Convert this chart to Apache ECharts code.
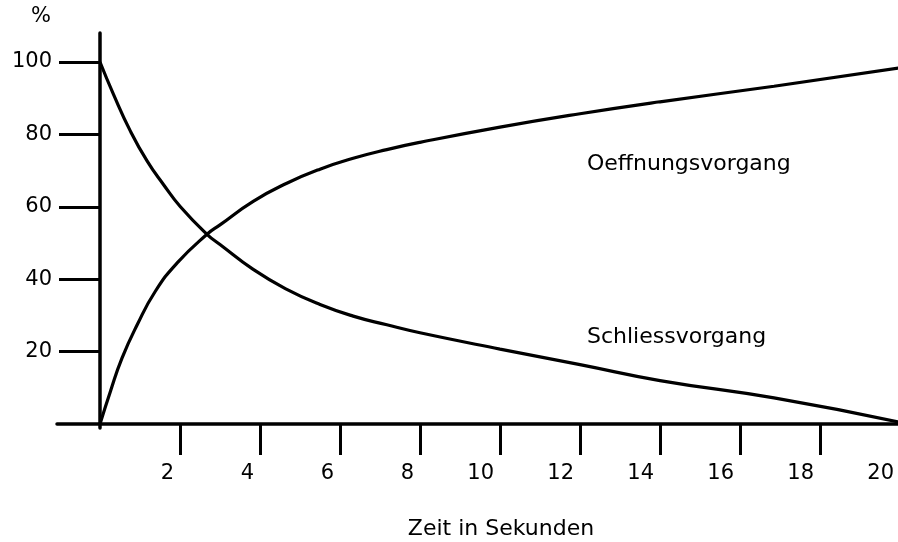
<!DOCTYPE html>
<html>
<head>
<meta charset="utf-8">
<script src="https://cdn.jsdelivr.net/npm/echarts@6/dist/echarts.min.js"></script>
<style>
  html, body { margin: 0; padding: 0; background: #fff; }
  #chart { width: 898px; height: 542px; }
</style>
</head>
<body>
<div id="chart"></div>
<script>
// readings (time in s, percent)
const openTime = [0, 0.26, 0.55, 0.93, 1.38, 1.93, 2.675, 3.0, 3.83, 4.67, 5.5, 6.33, 7.17, 8, 10, 12, 14, 16.85, 20];
const openPct = [0, 9, 18.2, 27.4, 36.6, 44.5, 52.4, 55, 61.5, 66.5, 70.4, 73.4, 75.8, 77.8, 82, 85.7, 89, 93.3, 98.4];
const closeTime = [0, 0.34, 0.76, 1.18, 1.59, 2.01, 2.675, 3.0, 3.83, 4.67, 5.5, 6.33, 7.17, 8, 10, 12, 14, 16.85, 20];
const closePct = [100, 91, 80.9, 72.6, 66.1, 60, 52.4, 49.6, 42.7, 37.2, 33, 29.8, 27.4, 25.2, 20.7, 16.4, 12, 7.2, 0.5];
const xTicks = [2, 4, 6, 8, 10, 12, 14, 16, 18, 20];
const yTicks = [20, 40, 60, 80, 100];

document.addEventListener("DOMContentLoaded", function () {
    const chart = echarts.init(document.getElementById('chart'));
    const font = 'DejaVu Sans';
    const pairs = (xs, ys) => xs.map((x, i) => [x, ys[i]]);
    const option = {
        animation: false,
        backgroundColor: '#fff',
        grid: { left: 57, top: 33, width: 843, height: 395, outerBoundsMode: 'none', containLabel: false },
        xAxis: {
            type: 'value', min: -1.075, max: 20,
            splitLine: { show: false },
            axisLine: { onZero: true, lineStyle: { color: '#000', width: 3.5 } },
            axisTick: { customValues: xTicks, length: 31, lineStyle: { color: '#000', width: 3 } },
            axisLabel: {
                customValues: xTicks, color: '#000', fontFamily: font, fontSize: 21,
                align: 'right', verticalAlign: 'middle', margin: 46, padding: [0, 6, 0, 0]
            }
        },
        yAxis: {
            type: 'value', min: -1.1, max: 108,
            splitLine: { show: false },
            axisLine: { onZero: true, lineStyle: { color: '#000', width: 3.5 } },
            axisTick: { customValues: yTicks, length: 41, lineStyle: { color: '#000', width: 3 } },
            axisLabel: {
                customValues: yTicks, color: '#000', fontFamily: font, fontSize: 21,
                align: 'right', verticalAlign: 'middle', margin: 5, padding: [0, 0, 28, 0]
            }
        },
        graphic: [
            { type: 'text', left: 31, top: 6, style: { text: '%', fill: '#000', font: '21px "DejaVu Sans"' } },
            { type: 'text', x: 501, y: 529, style: { text: 'Zeit in Sekunden', fill: '#000', font: '22px "DejaVu Sans"', align: 'center', verticalAlign: 'middle' } },
            { type: 'text', x: 587, y: 164, style: { text: 'Oeffnungsvorgang', fill: '#000', font: '22px "DejaVu Sans"', verticalAlign: 'middle' } },
            { type: 'text', x: 587, y: 337, style: { text: 'Schliessvorgang', fill: '#000', font: '22px "DejaVu Sans"', verticalAlign: 'middle' } }
        ],
        series: [
            {
                name: 'Oeffnungsvorgang', type: 'line', data: pairs(openTime, openPct),
                smooth: 0.5, showSymbol: false,
                lineStyle: { color: '#000', width: 3.2 }
            },
            {
                name: 'Schliessvorgang', type: 'line', data: pairs(closeTime, closePct),
                smooth: 0.5, showSymbol: false,
                lineStyle: { color: '#000', width: 3.2 }
            }
        ]
    };
    chart.setOption(option);
    window.addEventListener('resize', () => chart.resize());
});
</script>
</body>
</html>
